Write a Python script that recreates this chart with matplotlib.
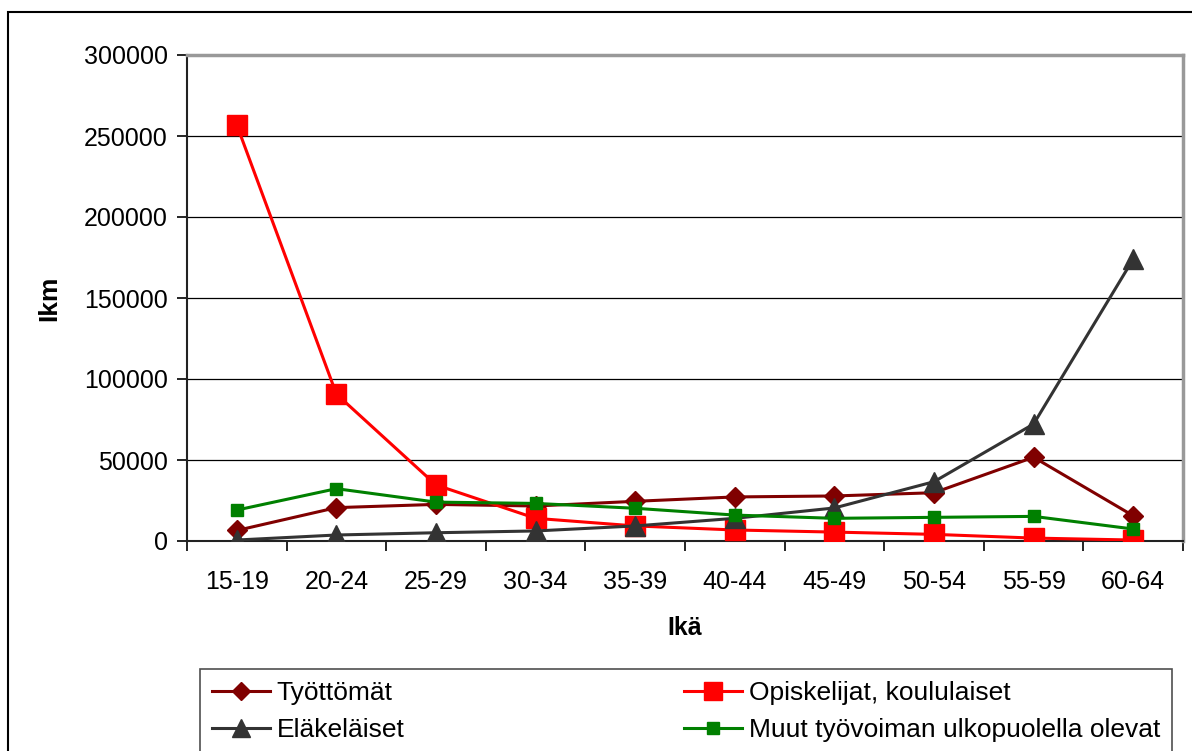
import matplotlib
matplotlib.use("Agg")
import matplotlib.pyplot as plt
from matplotlib.patches import Rectangle

plt.rcParams['font.family'] = ['Liberation Sans', 'DejaVu Sans']

categories = ["15-19", "20-24", "25-29", "30-34", "35-39", "40-44", "45-49", "50-54", "55-59", "60-64"]
tyottomat = [6500, 20600, 22600, 21600, 24500, 27200, 27800, 29800, 51700, 15600]
opiskelijat = [256800, 90700, 34600, 14000, 9300, 6800, 5500, 4100, 1800, 600]
elakelaiset = [600, 3700, 5100, 6200, 9300, 14000, 20400, 36600, 72200, 174000]
muut = [19100, 32300, 24000, 23200, 20200, 16000, 14000, 14600, 15200, 7400]
yticks = [0, 50000, 100000, 150000, 200000, 250000, 300000]

W, H = 1192, 751
fig = plt.figure(figsize=(W / 100, H / 100), dpi=100)
ax = fig.add_axes([187 / W, 1 - 541 / H, 996 / W, 486 / H])

x = list(range(len(categories)))
h1, = ax.plot(x, tyottomat, color='#800000', lw=2.2, marker='D', ms=10, label='Työttömät', zorder=3)
h2, = ax.plot(x, opiskelijat, color='#FF0000', lw=2.2, marker='s', ms=14, label='Opiskelijat, koululaiset', zorder=3)
h3, = ax.plot(x, elakelaiset, color='#333333', lw=2.2, marker='^', ms=14, label='Eläkeläiset', zorder=3)
h4, = ax.plot(x, muut, color='#008000', lw=2.2, marker='s', ms=9, label='Muut työvoiman ulkopuolella olevat', zorder=3)

ax.set_xlim(-0.5, len(categories) - 0.5)
ax.set_ylim(0, 300000)
ax.set_yticks(yticks)
ax.set_yticklabels([str(v) for v in yticks])
ax.yaxis.grid(True, color='black', lw=0.9)
ax.set_axisbelow(True)

ax.set_xticks(x)
ax.set_xticklabels(categories)
ax.set_xticks([i - 0.5 for i in range(len(categories) + 1)], minor=True)
ax.tick_params(axis='x', which='major', length=0, pad=21, labelsize=18)
ax.tick_params(axis='x', which='minor', length=7, width=1.2, direction='out')
ax.tick_params(axis='y', length=7, width=1.2, direction='out', pad=7, labelsize=18)

for s in ['left', 'bottom']:
    ax.spines[s].set_color('#222222')
    ax.spines[s].set_linewidth(1.5)
for s in ['top', 'right']:
    ax.spines[s].set_color('#999999')
    ax.spines[s].set_linewidth(2.5)

ax.set_xlabel('Ikä', fontsize=18, fontweight='bold', labelpad=16)
ax.set_ylabel('Ikm', fontsize=19, fontweight='bold', labelpad=16)

leg = ax.legend([h1, h3, h2, h4], [h.get_label() for h in (h1, h3, h2, h4)],
                loc='upper left',
                bbox_to_anchor=(200 / W, 1 - 669 / H, (1172 - 200) / W, 0),
                bbox_transform=fig.transFigure, mode='expand', ncol=2,
                fontsize=19, frameon=True, fancybox=False, edgecolor='#222222',
                handlelength=2.2, handletextpad=0.25, borderpad=0.45,
                labelspacing=0.5, borderaxespad=0)
leg.get_frame().set_linewidth(1.2)
for line in leg.get_lines():
    line.set_markersize(line.get_markersize() * 0.9)

fig.patches.append(Rectangle((8 / W, -0.1), 2, (H - 12) / H + 0.1, transform=fig.transFigure,
                             fill=False, edgecolor='black', lw=1.5, clip_on=False))

fig.savefig('out.png', dpi=100)
